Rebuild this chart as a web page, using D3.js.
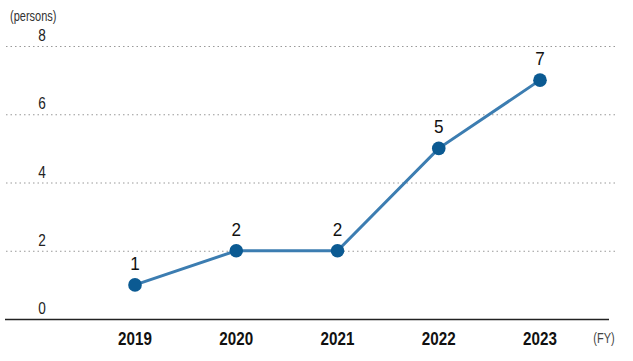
<!DOCTYPE html>
<html>
<head>
<meta charset="utf-8">
<script src="https://cdn.jsdelivr.net/npm/d3@7"></script>
<style>
  body { margin: 0; background: #fff; }
  text { font-family: "Liberation Sans Narrow", "Liberation Sans", Arial, sans-serif; }
</style>
</head>
<body>
<div id="chart"></div>
<script>
// data
var years = ['2019', '2020', '2021', '2022', '2023'];
var persons = [1, 2, 2, 5, 7];
var yTicks = [0, 2, 4, 6, 8];

var width = 633, height = 361;

var svg = d3.select('#chart').append('svg')
    .attr('width', width)
    .attr('height', height);

// scales
var x = d3.scalePoint()
    .domain(years)
    .range([135, 540]);
var y = d3.scaleLinear()
    .domain([0, 8])
    .range([319, 46]);

// the reference font is condensed, so squeeze text horizontally
function squeeze(sel, fx, fy, k) {
    sel.attr('x', 0).attr('y', 0)
        .attr('transform', (d, i) => `translate(${fx(d, i)},${fy(d, i)}) scale(${k},1)`);
}

// dotted gridlines (not on zero)
svg.selectAll('.grid')
    .data(yTicks.filter(d => d > 0))
    .enter().append('line')
    .attr('x1', 6).attr('x2', 616)
    .attr('y1', d => y(d) + 0.5).attr('y2', d => y(d) + 0.5)
    .attr('stroke', '#999')
    .attr('stroke-width', 1)
    .attr('stroke-dasharray', '1.5,3');

// y labels sit above their line
svg.selectAll('.ylab')
    .data(yTicks)
    .enter().append('text')
    .attr('text-anchor', 'middle')
    .attr('font-size', 17)
    .attr('fill', '#222')
    .text(d => d)
    .call(squeeze, () => 42, d => y(d) - 5, 0.8);

svg.append('text')
    .attr('font-size', 14.5)
    .attr('fill', '#333')
    .text('(persons)')
    .call(squeeze, () => 10, () => 21, 0.76);

// baseline
svg.append('line')
    .attr('x1', 5).attr('x2', 609)
    .attr('y1', y(0) + 0.5).attr('y2', y(0) + 0.5)
    .attr('stroke', '#222')
    .attr('stroke-width', 1.5);

// x axis labels
svg.selectAll('.xlab')
    .data(years)
    .enter().append('text')
    .attr('text-anchor', 'middle')
    .attr('font-size', 19)
    .attr('font-weight', 'bold')
    .attr('fill', '#111')
    .text(d => d)
    .call(squeeze, d => x(d), () => 345, 0.8);

svg.append('text')
    .attr('text-anchor', 'middle')
    .attr('font-size', 14.5)
    .attr('fill', '#444')
    .text('(FY)')
    .call(squeeze, () => 604, () => 343, 0.76);

// line
var line = d3.line()
    .x((d, i) => x(years[i]))
    .y(d => y(d));

svg.append('path')
    .datum(persons)
    .attr('d', line)
    .attr('fill', 'none')
    .attr('stroke', '#3c7db1')
    .attr('stroke-width', 3);

svg.selectAll('.dot')
    .data(persons)
    .enter().append('circle')
    .attr('cx', (d, i) => x(years[i]))
    .attr('cy', d => y(d))
    .attr('r', 6.8)
    .attr('fill', '#0b5a92');

svg.selectAll('.vlab')
    .data(persons)
    .enter().append('text')
    .attr('text-anchor', 'middle')
    .attr('font-size', 19)
    .attr('fill', '#111')
    .text(d => d)
    .call(squeeze, (d, i) => x(years[i]), d => y(d) - 15, 0.9);
</script>
</body>
</html>
